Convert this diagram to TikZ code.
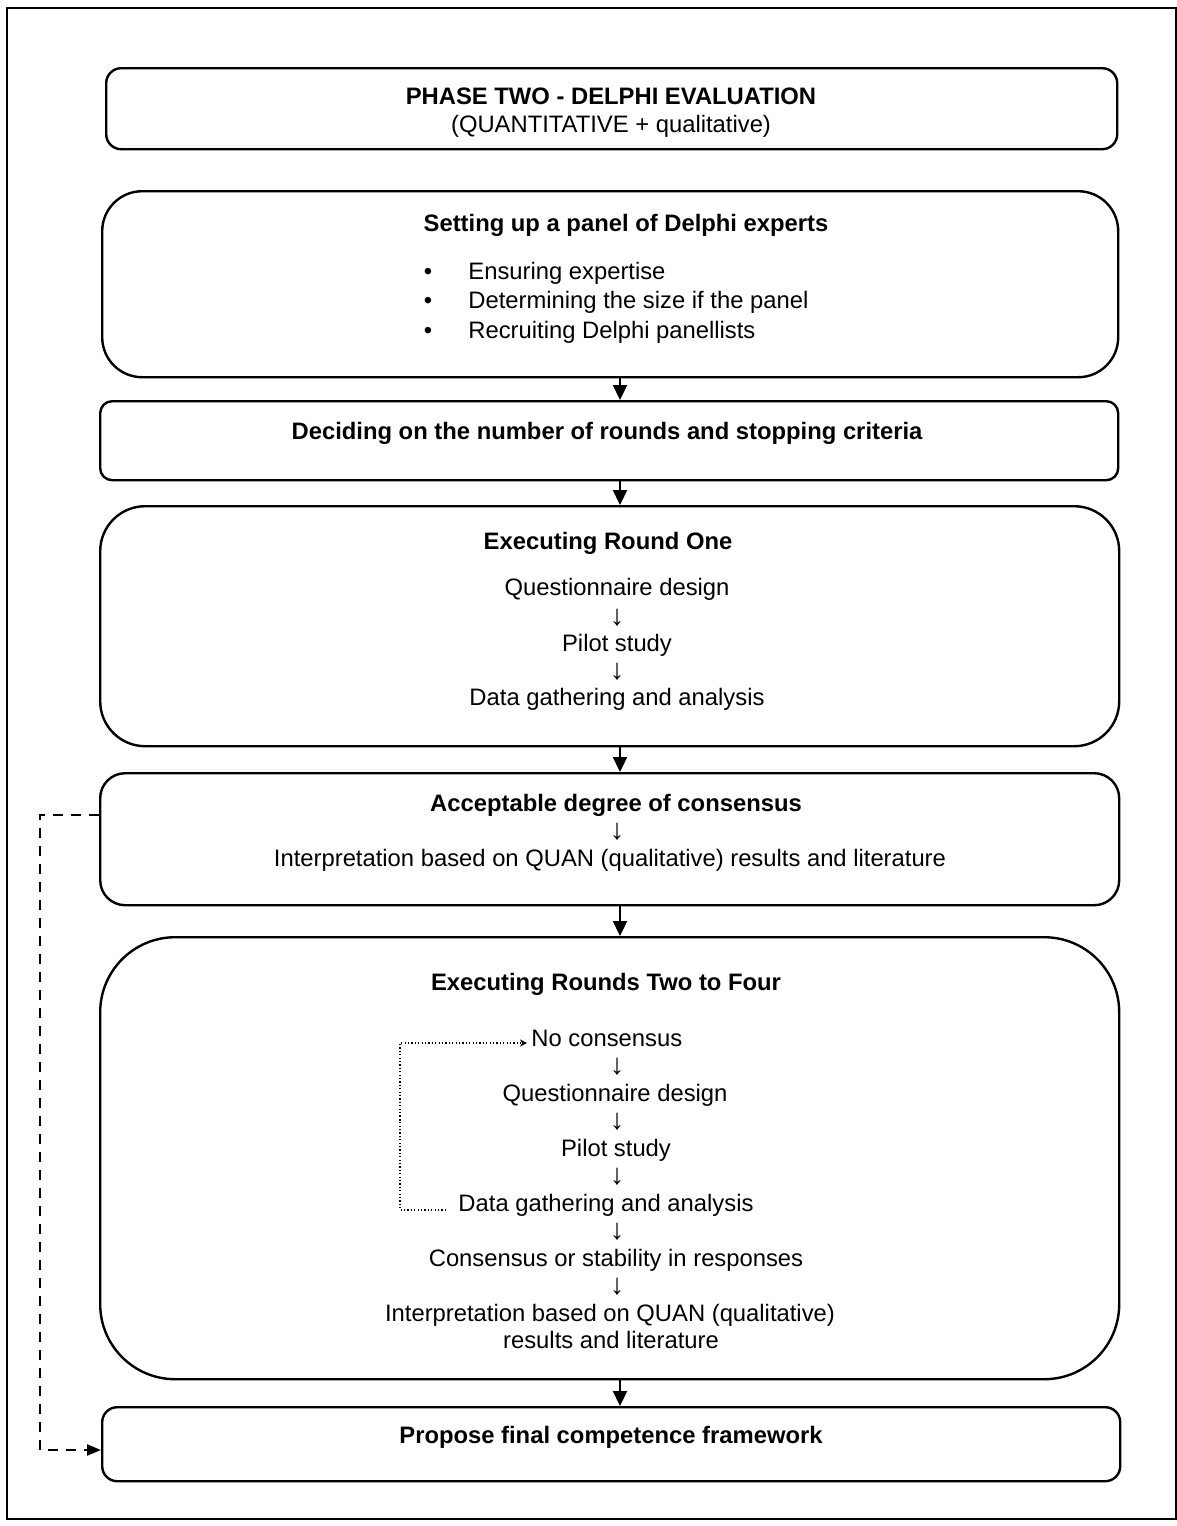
\documentclass[tikz,border=0pt]{standalone}
\usepackage{fontspec}
\setmainfont{Liberation Sans}
\usetikzlibrary{arrows.meta}
\begin{document}
\begin{tikzpicture}[x=0.5pt,y=-0.5pt,
  font=\fontsize{11.9}{14}\selectfont,
  stagebox/.style n args={3}{draw, line width=1.2pt, rounded corners=#3*0.5pt,
    minimum width=#1*0.5pt, minimum height=#2*0.5pt, anchor=north west, inner sep=0pt},
  head/.style={font=\fontsize{11.9}{14}\selectfont\bfseries, anchor=base, inner sep=0pt},
  txt/.style={anchor=base, inner sep=0pt},
  dn/.style={anchor=center, inner sep=0pt, font=\fontsize{14.5}{15}\selectfont},
  bul/.style={anchor=base, inner sep=0pt},
  flow/.style={line width=1.1pt, -{Triangle[length=7.5pt,width=7pt]}},
  skip/.style={line width=1.1pt, dash pattern=on 5pt off 4pt, -{Triangle[length=7pt,width=5.5pt]}},
  loop/.style={line width=0.6pt, dash pattern=on 0.6pt off 1.1pt, -{Stealth[length=3.5pt,width=3.5pt]}}
]
\useasboundingbox (0,0) rectangle (1177,1526);
% outer frame
\draw[line width=0.7pt] (7,8) rectangle (1176,1519);

% stage boxes
\node[stagebox={1011}{81}{15}]  (b1) at (105,67)  {};
\node[stagebox={1016}{186}{40}] (b2) at (101,190) {};
\node[stagebox={1018}{79}{12}]  (b3) at (99,400)  {};
\node[stagebox={1019}{240}{45}] (b4) at (99,505)  {};
\node[stagebox={1019}{132}{25}] (b5) at (99,772)  {};
\node[stagebox={1019}{442}{75}] (b6) at (99,936)  {};
\node[stagebox={1018}{74}{15}]  (b7) at (101,1406) {};

% title
\node[head] (t1) at (611,104) {PHASE TWO - DELPHI EVALUATION};
\node[txt]  (t2) at (611,132) {(QUANTITATIVE + qualitative)};

% panel of experts
\node[head] (p0) at (626,231) {Setting up a panel of Delphi experts};
\node[bul] (pb1) at (428,279) {•};
\node[bul] (pb2) at (428,308) {•};
\node[bul] (pb3) at (428,338) {•};
\node[txt, anchor=base west] (p1) at (468,279) {Ensuring expertise};
\node[txt, anchor=base west] (p2) at (468,308) {Determining the size if the panel};
\node[txt, anchor=base west] (p3) at (468,338) {Recruiting Delphi panellists};

% rounds and stopping criteria
\node[head] (s0) at (607,439) {Deciding on the number of rounds and stopping criteria};

% round one
\node[head] (r0) at (608,549) {Executing Round One};
\node[txt] (r1) at (617,595) {Questionnaire design};
\node[dn]  (r1a) at (617,618) {↓};
\node[txt] (r2) at (617,651) {Pilot study};
\node[dn]  (r2a) at (617,672) {↓};
\node[txt] (r3) at (617,705) {Data gathering and analysis};

% consensus
\node[head] (c0) at (616,811) {Acceptable degree of consensus};
\node[dn]   (c0a) at (617,832) {↓};
\node[txt]  (c1) at (610,866) {Interpretation based on QUAN (qualitative) results and literature};

% rounds two to four
\node[head] (q0) at (606,990) {Executing Rounds Two to Four};
\node[txt, anchor=base west] (qno) at (531,1046) {No consensus};
\node[dn]  (qa1) at (617,1067) {↓};
\node[txt] (q1) at (615,1101) {Questionnaire design};
\node[dn]  (qa2) at (617,1122) {↓};
\node[txt] (q2) at (616,1156) {Pilot study};
\node[dn]  (qa3) at (617,1177) {↓};
\node[txt] (q3) at (606,1211) {Data gathering and analysis};
\node[dn]  (qa4) at (617,1232) {↓};
\node[txt] (q4) at (616,1266) {Consensus or stability in responses};
\node[dn]  (qa5) at (617,1287) {↓};
\node[txt] (q5) at (610,1321) {Interpretation based on QUAN (qualitative)};
\node[txt] (q6) at (611,1348) {results and literature};

% final framework
\node[head] (f0) at (611,1443) {Propose final competence framework};

% main flow
\coordinate (ax) at (620,0);
\draw[flow] (b2.south -| ax) -- (b3.north -| ax);
\draw[flow] (b3.south -| ax) -- (b4.north -| ax);
\draw[flow] (b4.south -| ax) -- (b5.north -| ax);
\draw[flow] (b5.south -| ax) -- (b6.north -| ax);
\draw[flow] (b6.south -| ax) -- (b7.north -| ax);

% bypass from consensus to the final framework
\coordinate (sx) at (40,0);
\coordinate (sy1) at (0,815);
\coordinate (sy2) at (0,1450);
\draw[skip] (b5.west |- sy1) -- (sx |- sy1) -- (sx |- sy2) -- (b7.west |- sy2);

% iteration loop
\coordinate (lx) at (400,1120);
\coordinate (ly1) at (0,1210);
\coordinate (ly2) at (0,1043);
\draw[loop] ([xshift=-6pt]q3.west |- ly1) -| (lx) |- ([xshift=-2pt]qno.west |- ly2);
\end{tikzpicture}
\end{document}
